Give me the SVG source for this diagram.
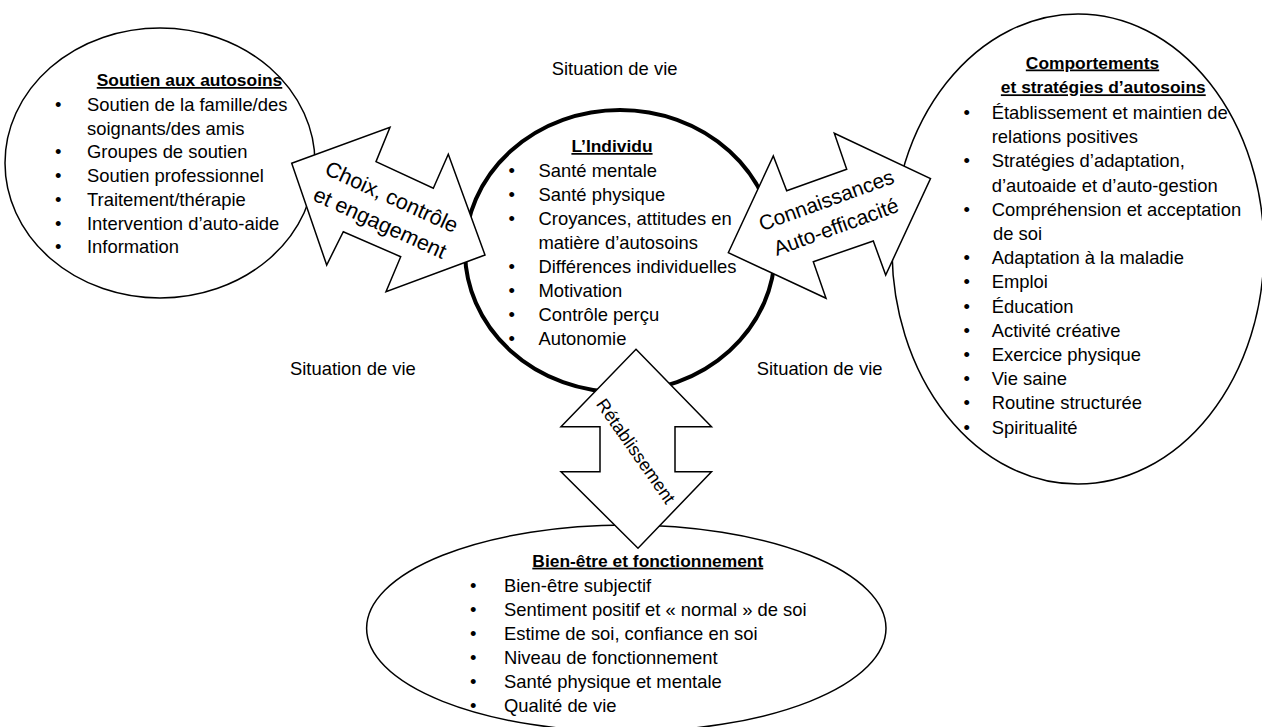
<svg xmlns="http://www.w3.org/2000/svg" width="1262" height="727" viewBox="0 0 1262 727">
  <style>
    text { font-family: "Liberation Sans", Arial, sans-serif; fill: #000; }
    .t { font-size: 18.4px; }
    .h { font-size: 17.4px; font-weight: bold; text-decoration: underline; text-anchor: middle; }
    .a { font-size: 21.5px; text-anchor: middle; }
    .a2 { font-size: 20.8px; text-anchor: middle; }
    .r { font-size: 17.9px; text-anchor: middle; }
    .shape { fill: #fff; stroke: #000; stroke-width: 1.5; }
    .core { fill: #fff; stroke: #000; stroke-width: 4; }
    .arrow { fill: #fff; stroke: #000; stroke-width: 1.5; stroke-linejoin: miter; }
  </style>

  <!-- Support for self-care -->
  <g id="soutien">
    <ellipse class="shape" cx="160" cy="163" rx="155" ry="135"/>
    <text class="h" x="189.5" y="86">Soutien aux autosoins</text>
    <g class="t">
      <text x="55" y="111">•</text><text x="87" y="111">Soutien de la famille/des</text>
      <text x="87" y="134.7">soignants/des amis</text>
      <text x="55" y="158.4">•</text><text x="87" y="158.4">Groupes de soutien</text>
      <text x="55" y="182.1">•</text><text x="87" y="182.1">Soutien professionnel</text>
      <text x="55" y="205.8">•</text><text x="87" y="205.8">Traitement/thérapie</text>
      <text x="55" y="229.5">•</text><text x="87" y="229.5">Intervention d’auto-aide</text>
      <text x="55" y="253.2">•</text><text x="87" y="253.2">Information</text>
    </g>
  </g>

  <!-- The individual -->
  <g id="individu">
    <ellipse class="core" cx="620" cy="251" rx="155" ry="141"/>
    <text class="h" x="612" y="152">L’Individu</text>
    <g class="t">
      <text x="508.5" y="176.7">•</text><text x="538.5" y="176.7">Santé mentale</text>
      <text x="508.5" y="200.8">•</text><text x="538.5" y="200.8">Santé physique</text>
      <text x="508.5" y="224.9">•</text><text x="538.5" y="224.9">Croyances, attitudes en</text>
      <text x="538.5" y="249">matière d’autosoins</text>
      <text x="508.5" y="273.1">•</text><text x="538.5" y="273.1">Différences individuelles</text>
      <text x="508.5" y="297.2">•</text><text x="538.5" y="297.2">Motivation</text>
      <text x="508.5" y="321.3">•</text><text x="538.5" y="321.3">Contrôle perçu</text>
      <text x="508.5" y="345.4">•</text><text x="538.5" y="345.4">Autonomie</text>
    </g>
  </g>

  <!-- Self-care behaviours and strategies -->
  <g id="comportements">
    <ellipse class="shape" cx="1078" cy="249" rx="186" ry="235"/>
    <text class="h" x="1092.5" y="68.5">Comportements</text>
    <text class="h" x="1103.3" y="93.3">et stratégies d’autosoins</text>
    <g class="t">
      <text x="963.5" y="119">•</text><text x="991.7" y="119">Établissement et maintien de</text>
      <text x="991.7" y="143.2">relations positives</text>
      <text x="963.5" y="167.4">•</text><text x="991.7" y="167.4">Stratégies d’adaptation,</text>
      <text x="991.7" y="191.6">d’autoaide et d’auto-gestion</text>
      <text x="963.5" y="215.8">•</text><text x="991.7" y="215.8">Compréhension et acceptation</text>
      <text x="993" y="240">de soi</text>
      <text x="963.5" y="264.2">•</text><text x="991.7" y="264.2">Adaptation à la maladie</text>
      <text x="963.5" y="288.4">•</text><text x="991.7" y="288.4">Emploi</text>
      <text x="963.5" y="312.6">•</text><text x="991.7" y="312.6">Éducation</text>
      <text x="963.5" y="336.8">•</text><text x="991.7" y="336.8">Activité créative</text>
      <text x="963.5" y="361">•</text><text x="991.7" y="361">Exercice physique</text>
      <text x="963.5" y="385.2">•</text><text x="991.7" y="385.2">Vie saine</text>
      <text x="963.5" y="409.4">•</text><text x="991.7" y="409.4">Routine structurée</text>
      <text x="963.5" y="433.6">•</text><text x="991.7" y="433.6">Spiritualité</text>
    </g>
  </g>

  <!-- Well-being and functioning -->
  <g id="bien-etre">
    <ellipse class="shape" cx="626.3" cy="628.3" rx="259.7" ry="103.3"/>
    <text class="h" x="647.8" y="566.7">Bien-être et fonctionnement</text>
    <g class="t">
      <text x="470" y="591.7">•</text><text x="504" y="591.7">Bien-être subjectif</text>
      <text x="470" y="615.8">•</text><text x="504" y="615.8">Sentiment positif et « normal » de soi</text>
      <text x="470" y="639.9">•</text><text x="504" y="639.9">Estime de soi, confiance en soi</text>
      <text x="470" y="664">•</text><text x="504" y="664">Niveau de fonctionnement</text>
      <text x="470" y="688.1">•</text><text x="504" y="688.1">Santé physique et mentale</text>
      <text x="470" y="712.2">•</text><text x="504" y="712.2">Qualité de vie</text>
    </g>
  </g>

  <!-- Life situation labels -->
  <g id="situation" class="t">
    <text x="551.7" y="75">Situation de vie</text>
    <text x="290" y="375">Situation de vie</text>
    <text x="756.7" y="375">Situation de vie</text>
  </g>

  <!-- Double-headed block arrows between the areas -->
  <g id="connectors">
    <g id="arrow-choix">
      <polygon class="arrow" points="291.7,163.3 390,127.3 376,161.7 433.3,188.3 448.3,154.3 485,255 386,291.7 400.7,256.7 343.3,231.7 326.7,265"/>
      <text class="a" transform="translate(386,209.5) rotate(24.5)"><tspan x="0" y="-6.5">Choix, contrôle</tspan><tspan x="0" y="21.9">et engagement</tspan></text>
    </g>
    <g id="arrow-connaissances">
      <polygon class="arrow" points="728.3,252.7 773.3,156 786.7,190.7 846.7,169.3 834.3,133.3 930.5,178.5 885.7,275 873.3,241 813.3,261.7 826,298.3"/>
      <text class="a2" transform="translate(831,213) rotate(-20)"><tspan x="0" y="-6.5">Connaissances</tspan><tspan x="0" y="21.9">Auto-efficacité</tspan></text>
    </g>
    <g id="arrow-retablissement">
      <polygon class="arrow" points="636,349.3 711.5,426.7 675,426.7 675,471.7 711.5,471.7 638,548.3 561,471.7 600,471.7 600,426.7 561,426.7"/>
      <text class="r" transform="translate(636,451) rotate(55)" y="6.3">Rétablissement</text>
    </g>
  </g>
</svg>
